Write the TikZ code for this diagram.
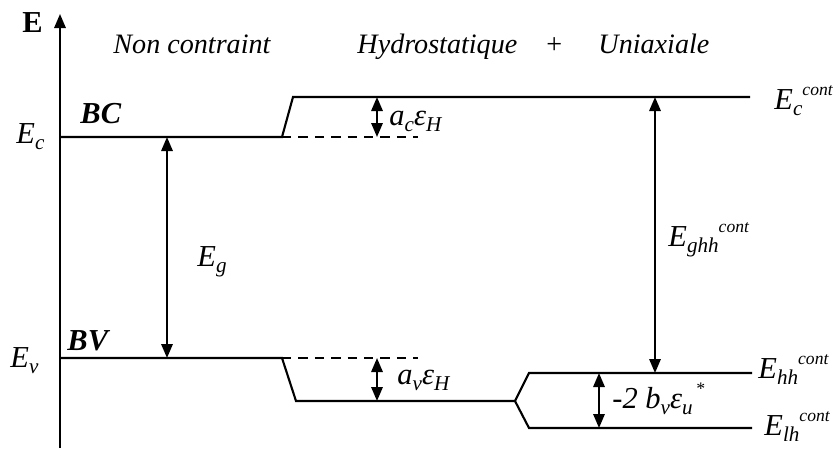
\documentclass[tikz,border=0pt]{standalone}
\usepackage{fontspec}
\setmainfont{Liberation Serif}
\usetikzlibrary{arrows.meta}

\newcommand\subx[1]{\raisebox{-0.45ex}{\fontsize{9}{10}\selectfont #1}}
\newcommand\supx[1]{\raisebox{0.95ex}{\fontsize{7.5}{9}\selectfont #1}}

\begin{document}
\begin{tikzpicture}[x=0.015cm,y=-0.015cm,
  font=\fontsize{13}{15}\selectfont\itshape,
  >={Triangle[length=2.1mm,width=1.7mm]},
  level/.style={line width=0.9pt},
  dashlevel/.style={level,dash pattern=on 4pt off 3pt},
  gap/.style={<->,line width=0.9pt},
  lbl/.style={anchor=base west,inner sep=0pt},
  title/.style={lbl,font=\fontsize{12}{14}\selectfont\itshape}]
 \useasboundingbox (0,0) rectangle (833,451);

 % axis
 \coordinate (ax0) at (60,448);
 \coordinate (ax1) at (60,14);
 \draw[->,line width=0.9pt] (ax0) -- (ax1);
 \node[lbl,font=\fontsize{13}{15}\selectfont\bfseries] (eaxis) at (22,32) {E};

 % titles
 \node[title] (tnc) at (113,53) {Non contraint};
 \node[title] (thy) at (357,53) {Hydrostatique};
 \node[title,font=\fontsize{12}{14}\selectfont\upshape] (tplus) at (546,53) {+};
 \node[title] (tun) at (598,53) {Uniaxiale};

 % conduction band
 \coordinate (ec0) at (60,137);
 \coordinate (ec1) at (282,137);
 \coordinate (ec2) at (293,97);
 \coordinate (ec3) at (750,97);
 \coordinate (ecd) at (418,137);
 \draw[level] (ec0) -- (ec1) -- (ec2) -- (ec3);
 \draw[dashlevel] (ec1) -- (ecd);

 % valence band
 \coordinate (ev0) at (60,358);
 \coordinate (ev1) at (282,358);
 \coordinate (ev2) at (296,401);
 \coordinate (ev3) at (515,401);
 \coordinate (evd) at (418,358);
 \coordinate (hh0) at (529,373);
 \coordinate (hh1) at (752,373);
 \coordinate (lh0) at (529,428);
 \coordinate (lh1) at (752,428);
 \draw[level] (ev0) -- (ev1) -- (ev2) -- (ev3) -- (hh0) -- (hh1);
 \draw[level] (ev3) -- (lh0) -- (lh1);
 \draw[dashlevel] (ev1) -- (evd);

 % gaps and shifts
 \coordinate (egt) at (167,137); \coordinate (egb) at (167,358);
 \coordinate (act) at (377,97);  \coordinate (acb) at (377,137);
 \coordinate (avt) at (377,358); \coordinate (avb) at (377,401);
 \coordinate (ght) at (655,97);  \coordinate (ghb) at (655,373);
 \coordinate (bvt) at (599,373); \coordinate (bvb) at (599,428);
 \draw[gap] (egt) -- (egb);
 \draw[gap] (act) -- (acb);
 \draw[gap] (avt) -- (avb);
 \draw[gap] (ght) -- (ghb);
 \draw[gap] (bvt) -- (bvb);

 % labels
 \node[lbl,font=\fontsize{13}{15}\selectfont\bfseries\itshape] (bc) at (80,123) {BC};
 \node[lbl,font=\fontsize{13}{15}\selectfont\bfseries\itshape] (bv) at (67,350) {BV};
 \node[lbl] (lec) at (16,143) {E\subx{c}};
 \node[lbl] (lev) at (10,367) {E\subx{v}};
 \node[lbl] (leg) at (197,266) {E\subx{g}};
 \node[lbl] (lac) at (389,125) {a\subx{c}ε\subx{H}};
 \node[lbl] (lav) at (397,384) {a\subx{v}ε\subx{H}};
 \node[lbl] (lgh) at (668,246) {E\subx{ghh}\supx{cont}};
 \node[lbl] (lbv) at (612,408) {-2 b\subx{v}ε\subx{u}\supx{\,*}};
 \node[lbl] (lcc) at (774,109) {E\subx{c}\supx{cont}};
 \node[lbl] (lhh) at (758,378) {E\subx{hh}\supx{cont}};
 \node[lbl] (llh) at (764,435) {E\subx{lh}\supx{cont}};
\end{tikzpicture}
\end{document}
